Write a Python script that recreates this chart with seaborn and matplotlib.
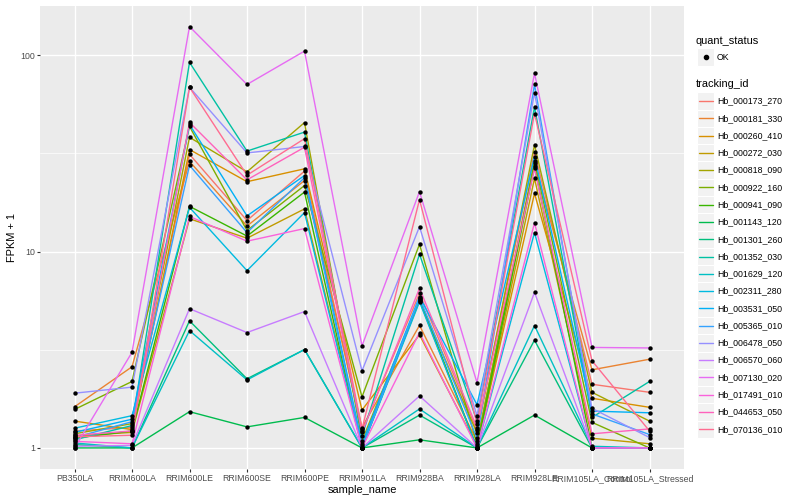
import numpy as np
import pandas as pd
import matplotlib
matplotlib.use("Agg")
import matplotlib.pyplot as plt
from matplotlib.patches import Rectangle
from matplotlib.lines import Line2D
from matplotlib.ticker import FixedLocator, NullFormatter
import seaborn as sns

samples = ["PB350LA", "RRIM600LA", "RRIM600LE", "RRIM600SE", "RRIM600PE",
           "RRIM901LA", "RRIM928BA", "RRIM928LA", "RRIM928LE",
           "RRIM105LA_Control", "RRIM105LA_Stressed"]

tracking_ids = ["Hb_000173_270", "Hb_000181_330", "Hb_000260_410", "Hb_000272_030",
                "Hb_000818_090", "Hb_000922_160", "Hb_000941_090", "Hb_001143_120",
                "Hb_001301_260", "Hb_001352_030", "Hb_001629_120", "Hb_002311_280",
                "Hb_003531_050", "Hb_005365_010", "Hb_006478_050", "Hb_006570_060",
                "Hb_007130_020", "Hb_017491_010", "Hb_044653_050", "Hb_070136_010"]

hb_000173_270 = [1.22, 1.27, 31.3, 14.4, 25.7, 1.22, 6.13, 1.23, 32.0, 2.11, 1.92]
hb_000181_330 = [1.62, 2.59, 28.8, 13.5, 23.0, 1.27, 4.21, 1.08, 28.1, 2.50, 2.83]
hb_000260_410 = [1.37, 1.24, 33.1, 22.7, 26.4, 1.56, 3.77, 1.02, 19.8, 1.79, 1.61]
hb_000272_030 = [1.15, 1.20, 14.7, 11.7, 16.5, 1.02, 5.62, 1.00, 23.6, 1.12, 1.05]
hb_000818_090 = [1.18, 1.33, 38.2, 25.5, 45.4, 1.09, 5.66, 1.19, 35.0, 1.92, 1.37]
hb_000922_160 = [1.57, 2.18, 43.4, 12.8, 21.7, 1.82, 10.9, 1.05, 29.0, 1.35, 1.00]
hb_000941_090 = [1.12, 1.22, 17.0, 12.0, 20.1, 1.00, 5.76, 1.00, 27.2, 1.00, 1.00]
hb_001143_120 = [1.00, 1.00, 1.53, 1.28, 1.43, 1.00, 1.10, 1.00, 1.47, 1.00, 1.00]
hb_001301_260 = [1.04, 1.00, 4.44, 2.25, 3.17, 1.00, 1.47, 1.00, 3.54, 1.00, 1.00]
hb_001352_030 = [1.10, 1.30, 92.0, 32.5, 40.6, 1.15, 9.70, 1.37, 54.5, 1.43, 2.18]
hb_001629_120 = [1.06, 1.00, 3.96, 2.22, 3.17, 1.00, 1.58, 1.00, 4.20, 1.02, 1.00]
hb_002311_280 = [1.26, 1.46, 16.8, 8.00, 15.8, 1.00, 5.55, 1.00, 12.5, 1.00, 1.00]
hb_003531_050 = [1.20, 1.40, 44.4, 15.2, 24.4, 1.05, 5.89, 1.66, 30.5, 1.54, 1.51]
hb_005365_010 = [1.13, 1.36, 27.5, 12.5, 23.8, 1.00, 5.82, 1.12, 71.0, 1.49, 1.17]
hb_006478_050 = [1.90, 2.04, 68.7, 31.8, 34.3, 2.47, 13.4, 1.46, 64.5, 1.59, 1.13]
hb_006570_060 = [1.02, 1.03, 5.12, 3.87, 4.95, 1.00, 1.84, 1.00, 6.20, 1.00, 1.00]
hb_007130_020 = [1.00, 3.07, 140.0, 71.0, 105.0, 3.31, 20.2, 2.15, 81.0, 3.25, 3.23]
hb_017491_010 = [1.08, 1.05, 15.1, 11.3, 13.1, 1.00, 3.87, 1.00, 14.0, 1.00, 1.00]
hb_044653_050 = [1.16, 1.22, 45.5, 23.2, 34.0, 1.20, 6.50, 1.27, 26.5, 1.18, 1.25]
hb_070136_010 = [1.14, 1.16, 68.7, 24.5, 37.6, 1.25, 18.4, 1.33, 50.5, 2.78, 1.22]

series = [hb_000173_270, hb_000181_330, hb_000260_410, hb_000272_030, hb_000818_090,
          hb_000922_160, hb_000941_090, hb_001143_120, hb_001301_260, hb_001352_030,
          hb_001629_120, hb_002311_280, hb_003531_050, hb_005365_010, hb_006478_050,
          hb_006570_060, hb_007130_020, hb_017491_010, hb_044653_050, hb_070136_010]

palette = ["#F8766D", "#EA8331", "#D89000", "#C09B00", "#A3A500", "#7CAE00", "#39B600",
           "#00BB4E", "#00BF7D", "#00C1A3", "#00BFC4", "#00BAE0", "#00B0F6", "#35A2FF",
           "#9590FF", "#C77CFF", "#E76BF3", "#FA62DB", "#FF62BC", "#FF6C91"]

rows = []
for tid, vals in zip(tracking_ids, series):
    for i, (s, v) in enumerate(zip(samples, vals)):
        rows.append({"tracking_id": tid, "sample_name": s, "pos": i + 1, "fpkm1": v})
df = pd.DataFrame(rows)

sns.set_theme(style="darkgrid")
plt.rcParams["font.family"] = ["Liberation Sans", "DejaVu Sans"]

W, H = 800, 500
fig = plt.figure(figsize=(8, 5), dpi=100)
L, R, T, B = 40, 684, 5.5, 469
ax = fig.add_axes([L / W, 1 - B / H, (R - L) / W, (B - T) / H])
ax.set_facecolor("#EBEBEB")

sns.lineplot(data=df, x="pos", y="fpkm1", hue="tracking_id", palette=palette,
             hue_order=tracking_ids, estimator=None, linewidth=1.0, legend=False,
             ax=ax, zorder=2)
sns.scatterplot(data=df, x="pos", y="fpkm1", color="black", s=10, linewidth=0,
                legend=False, ax=ax, zorder=3)

ax.set_yscale("log")
lo = np.log10(df["fpkm1"].min())
hi = np.log10(df["fpkm1"].max())
pad = 0.05 * (hi - lo)
ax.set_ylim(10 ** (lo - pad), 10 ** (hi + pad))
ax.set_xlim(0.4, len(samples) + 0.6)

ax.yaxis.set_major_locator(FixedLocator([1, 10, 100]))
ax.set_yticklabels(["1", "10", "100"])
ax.yaxis.set_minor_locator(FixedLocator([10 ** 0.5, 10 ** 1.5]))
ax.yaxis.set_minor_formatter(NullFormatter())
ax.set_xticks(range(1, len(samples) + 1))
ax.set_xticklabels(samples)

ax.grid(which="major", color="white", linewidth=1.0)
ax.grid(which="minor", axis="y", color="white", linewidth=0.5)
ax.set_axisbelow(True)
for sp in ax.spines.values():
    sp.set_visible(False)

ax.tick_params(which="major", length=1.98, width=0.8, color="#333333",
               labelsize=6.34, labelcolor="#4D4D4D", pad=1.6)
ax.tick_params(which="minor", length=0)
ax.tick_params(axis="x", bottom=True)
ax.tick_params(axis="y", left=True)
ax.set_xlabel("")
ax.set_ylabel("")

def fx(x):
    return x / W

def fy(y):
    return 1 - y / H

fig.text(fx((L + R) / 2), fy(490), "sample_name", ha="center", va="center",
         fontsize=7.92, color="black")
fig.text(fx(12), fy((T + B) / 2), "FPKM + 1", ha="center", va="center",
         rotation=90, fontsize=7.92, color="black")

# legend: quant_status
kx0, kw, kh = 697, 17.28, 17.28
fig.text(fx(696), fy(40.7), "quant_status", ha="left", va="center",
         fontsize=7.92, color="black")
ky = 57
fig.patches.append(Rectangle((fx(kx0), fy(ky + kh / 2)), kw / W, kh / H,
                             transform=fig.transFigure, facecolor="#F2F2F2",
                             edgecolor="white", linewidth=0.8, zorder=1))
fig.lines.append(Line2D([fx(kx0 + kw / 2)], [fy(ky)], marker="o", markersize=3,
                        color="black", linestyle="none", transform=fig.transFigure))
fig.text(fx(717), fy(ky), "OK", ha="left", va="center", fontsize=6.34, color="black")

# legend: tracking_id
fig.text(fx(696), fy(84.3), "tracking_id", ha="left", va="center",
         fontsize=7.92, color="black")
for i, (tid, col) in enumerate(zip(tracking_ids, palette)):
    yc = 101 + i * 17.28
    fig.patches.append(Rectangle((fx(kx0), fy(yc + kh / 2)), kw / W, kh / H,
                                 transform=fig.transFigure, facecolor="#F2F2F2",
                                 edgecolor="white", linewidth=0.8, zorder=1))
    fig.lines.append(Line2D([fx(kx0 + 1.5), fx(kx0 + kw - 1.5)], [fy(yc), fy(yc)],
                            color=col, linewidth=1.0, transform=fig.transFigure))
    fig.text(fx(717), fy(yc), tid, ha="left", va="center", fontsize=6.34, color="black")

fig.savefig("out.png", dpi=100, facecolor="white")
